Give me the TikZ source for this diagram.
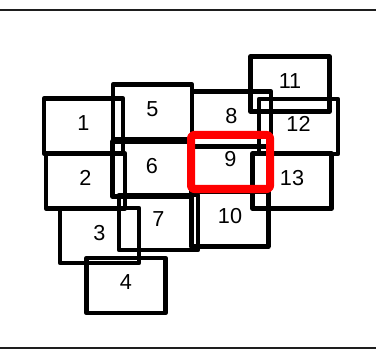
\documentclass[tikz,border=0pt]{standalone}
\usepackage{fontspec}
\setmainfont{Liberation Sans}
\usepackage{xcolor}
\usepackage{tikz}
\usetikzlibrary{positioning}
\definecolor{PickRed}{RGB}{255,0,0}
\definecolor{FrameGray}{RGB}{30,30,30}
\tikzset{
  %%── tiles (outline only, no fill) ──────────────────────────
  tile/.style = {
    rectangle, draw = black, line width = 0.135cm, line join = round,
    minimum width = 2.37cm, minimum height = 1.65cm, inner sep = 0pt,
    text depth = 0.18cm, font = \fontsize{18.5}{20}\selectfont
  },
  %%── selected tile ─────────────────────────────────────────
  pick/.style = {
    tile, draw = PickRed, line width = 0.24cm, rounded corners = 0.09cm,
    minimum height = 1.62cm
  },
  rule/.style = {line width = 0.06cm, color = FrameGray},
}

\begin{document}
\begin{tikzpicture}[x=0.03cm, y=-0.03cm]

  \useasboundingbox (0,0) rectangle (376,349);

  %% frame rules
  \coordinate (tl) at (0,10.5);   \coordinate (tr) at (376,10.5);
  \coordinate (bl) at (0,347.5);  \coordinate (br) at (376,347.5);
  \draw[rule] (tl) -- (tr);
  \draw[rule] (bl) -- (br);

  %% left column
  \node[tile] (t1) at (83.5,126)   {1};
  \node[tile] (t2) at (85.5,181)   {2};
  \node[tile] (t3) at (99.5,235.5) {3};
  \node[tile] (t4) at (126,285.5)  {4};

  %% middle column
  \node[tile] (t5) at (152.5,112)  {5};
  \node[tile] (t6) at (152,169)    {6};
  \node[tile] (t7) at (158.5,222.5){7};
  \node[tile] (t8) at (231.5,119)  {8};
  \node[tile, minimum width=2.3cm] (t10) at (230,219) {10};

  %% right column
  \node[tile] (t11) at (290,84)    {11};
  \node[tile] (t12) at (298.5,126.5){12};
  \node[tile] (t13) at (292,181)   {13};

  %% selected one on top
  \node[pick] (t9) at (230.5,162)  {9};

\end{tikzpicture}
\end{document}
